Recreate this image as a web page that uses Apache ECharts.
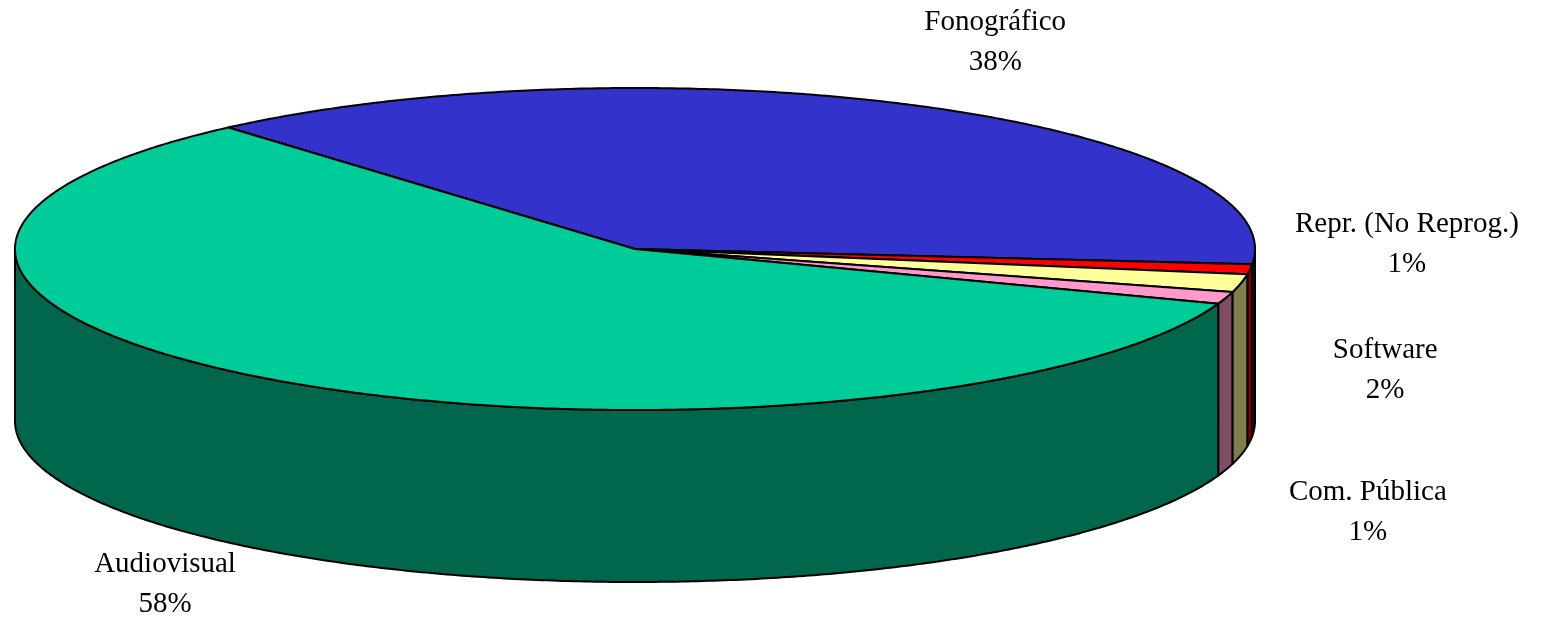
<!DOCTYPE html>
<html>
<head>
<meta charset="utf-8">
<script src="https://cdn.jsdelivr.net/npm/echarts@6/dist/echarts.min.js"></script>
<style>
  html, body { margin: 0; padding: 0; background: #ffffff; }
  #chart { width: 1543px; height: 618px; }
</style>
</head>
<body>
<div id="chart"></div>
<script>
// ---- data ----
var categories = ['Fonográfico', 'Repr. (No Reprog.)', 'Software', 'Com. Pública', 'Audiovisual'];
var values = [37.9, 1.0, 1.8, 1.2, 58.1];

// ---- styling / layout (not data) ----
var topColors = ['#3333CC', '#FF0000', '#FFFF99', '#FF99CC', '#00CC99'];
var startAngle = 131;          // degrees, math convention, slices go clockwise
var depth = 1.068;             // wall height in y-axis units
var labelAnchors = [           // label centres in axis units
  [0.581, 1.286],
  [1.245, 0.031],
  [1.210, -0.752],
  [1.182, -1.634],
  [-0.758, -2.081]
];

function darken(hex) {
  var r = parseInt(hex.substr(1, 2), 16) >> 1;
  var g = parseInt(hex.substr(3, 2), 16) >> 1;
  var b = parseInt(hex.substr(5, 2), 16) >> 1;
  return 'rgb(' + r + ',' + g + ',' + b + ')';
}

var total = values.reduce(function (a, b) { return a + b; }, 0);
var ranges = [];
(function () {
  var a = startAngle;
  for (var i = 0; i < values.length; i++) {
    var span = values[i] / total * 360;
    ranges.push([a, a - span]); // [from, to], to < from
    a -= span;
  }
})();

function rad(d) { return d * Math.PI / 180; }

function renderItem(params, api) {
  var i = params.dataIndex;
  var from = ranges[i][0], to = ranges[i][1];
  var children = [];
  var col = topColors[i];

  // side wall: intersect [to, from] with front half ranges
  var fronts = [[-180, 0], [-540, -360], [180, 360]];
  fronts.forEach(function (fr) {
    var lo = Math.max(to, fr[0]);
    var hi = Math.min(from, fr[1]);
    if (hi - lo > 1e-6) {
      var pts = [];
      var n = Math.max(2, Math.ceil((hi - lo) / 0.5));
      var k, a;
      for (k = 0; k <= n; k++) {
        a = rad(hi - (hi - lo) * k / n);
        pts.push(api.coord([Math.cos(a), Math.sin(a)]));
      }
      for (k = n; k >= 0; k--) {
        a = rad(hi - (hi - lo) * k / n);
        pts.push(api.coord([Math.cos(a), Math.sin(a) - depth]));
      }
      children.push({
        type: 'polygon',
        z2: 1,
        shape: { points: pts },
        style: { fill: darken(col), stroke: '#000', lineWidth: 2, lineJoin: 'round' }
      });
    }
  });

  // top face
  var tp = [api.coord([0, 0])];
  var m = Math.max(2, Math.ceil((from - to) / 0.5));
  for (var k = 0; k <= m; k++) {
    var a = rad(from - (from - to) * k / m);
    tp.push(api.coord([Math.cos(a), Math.sin(a)]));
  }
  children.push({
    type: 'polygon',
    z2: 2,
    shape: { points: tp },
    style: { fill: col, stroke: '#000', lineWidth: 2, lineJoin: 'round' }
  });

  // label
  var lp = api.coord(labelAnchors[i]);
  var pct = Math.round(values[i] / total * 100);
  children.push({
    type: 'text',
    z2: 3,
    x: lp[0],
    y: lp[1],
    style: {
      text: categories[i] + '\n' + pct + '%',
      fill: '#000',
      fontSize: 29,
      fontFamily: '"Liberation Serif", serif',
      lineHeight: 40,
      align: 'center',
      verticalAlign: 'middle'
    }
  });

  return { type: 'group', children: children };
}

var chart = echarts.init(document.getElementById('chart'), null, { renderer: 'canvas' });
chart.setOption({
  animation: false,
  backgroundColor: '#ffffff',
  grid: { left: 15, width: 1240, top: 88, height: 494 },
  xAxis: { type: 'value', min: -1, max: 1, show: false },
  yAxis: { type: 'value', min: -(1 + depth), max: 1, show: false },
  series: [{
    type: 'custom',
    coordinateSystem: 'cartesian2d',
    renderItem: renderItem,
    clip: false,
    data: categories.map(function (c, i) { return { name: c, value: [0, 0, values[i]] }; })
  }]
});
</script>
</body>
</html>
